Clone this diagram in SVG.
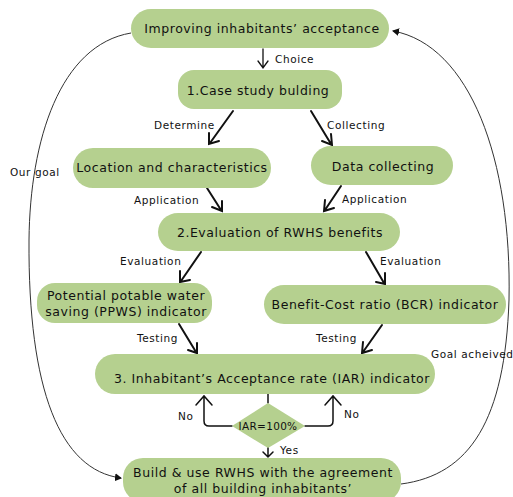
<svg xmlns="http://www.w3.org/2000/svg" width="513" height="497" viewBox="0 0 513 497">
<style>
.n{fill:#b5d08f}
.t{font-family:"DejaVu Sans",Verdana,sans-serif;font-size:12.5px;fill:#111;text-anchor:middle;letter-spacing:0.55px}
.l{font-family:"DejaVu Sans",Verdana,sans-serif;font-size:10.5px;fill:#111;letter-spacing:0.6px}
.a{fill:none;stroke:#111;stroke-width:2;stroke-linecap:round;stroke-linejoin:miter}
.c{fill:none;stroke:#333;stroke-width:1}
</style>
<defs>
<marker id="tri" markerWidth="8" markerHeight="8" refX="6" refY="4" orient="auto" markerUnits="userSpaceOnUse">
<path d="M0,0 L7,4 L0,8 Z" fill="#111"/>
</marker>
</defs>
<rect width="513" height="497" fill="#fff"/>
<g id="connectors">
<path class="c" d="M131,33 C60,45 30,140 29,240 C28,390 60,470 121,478" marker-end="url(#tri)"/>
<path class="c" d="M401,484 C470,475 505,420 509,300 C512,160 470,45 393,31" marker-end="url(#tri)"/>
<path class="a" d="M263,49 V68 M258,61 L263,68 L268,61" style="stroke-width:1.3"/>
<path class="a" d="M233,111 L210,143 M209,133 L209,144 L219,141"/>
<path class="a" d="M311,111 L331,144 M322,141 L332,145 L331,134"/>
<path class="a" d="M207,188 L221,210 M212,207 L222,211 L222,201"/>
<path class="a" d="M341,186 L325,210 M325,200 L324,211 L334,208"/>
<path class="a" d="M201,252 L181,281 M180,271 L180,282 L190,280"/>
<path class="a" d="M366,252 L384,283 M376,282 L385,284 L385,273"/>
<path class="a" d="M179,324 L196,352 M188,350 L197,353 L197,343"/>
<path class="a" d="M382,325 L363,352 M363,342 L362,353 L372,350"/>
<path class="a" style="stroke-width:1.5" d="M268,394 V403"/>
<path class="a" style="stroke-width:1.5" d="M232,426 H209 Q204,426 204,421 V397 M196,405 L204,396 L212,405"/>
<path class="a" style="stroke-width:1.5" d="M305,426 H328 Q333,426 333,421 V397 M325,405 L333,396 L341,405"/>
<path class="a" style="stroke-width:1.5" d="M268,447 V457 M263,452 L268,457 L273,452"/>
</g>
<g id="labels">
<text class="l" x="275" y="63">Choice</text>
<text class="l" x="154" y="129">Determine</text>
<text class="l" x="327" y="129">Collecting</text>
<text class="l" x="10" y="176">Our goal</text>
<text class="l" x="134" y="204">Application</text>
<text class="l" x="342" y="203">Application</text>
<text class="l" x="120" y="265">Evaluation</text>
<text class="l" x="380" y="265">Evaluation</text>
<text class="l" x="137" y="342">Testing</text>
<text class="l" x="316" y="342">Testing</text>
<text class="l" x="431" y="358">Goal acheived</text>
<text class="l" x="178" y="420">No</text>
<text class="l" x="344" y="418">No</text>
<text class="l" x="280" y="454">Yes</text>
</g>
<g id="n1"><rect class="n" x="131" y="9" width="258" height="39" rx="20"/><text class="t" x="262" y="33">Improving inhabitants’ acceptance</text></g>
<g id="n2"><rect class="n" x="178" y="70" width="164" height="39" rx="16"/><text class="t" x="258" y="95">1.Case study bulding</text></g>
<g id="n3"><rect class="n" x="73" y="148" width="198" height="40" rx="20"/><text class="t" x="172" y="172">Location and characteristics</text></g>
<g id="n4"><rect class="n" x="311" y="146" width="142" height="39" rx="20"/><text class="t" x="383" y="171">Data collecting</text></g>
<g id="n5"><rect class="n" x="158" y="213" width="242" height="38" rx="20"/><text class="t" x="280" y="237">2.Evaluation of RWHS benefits</text></g>
<g id="n6"><rect class="n" x="37" y="283" width="175" height="40" rx="18"/><text class="t" x="126" y="300">Potential potable water</text><text class="t" x="126" y="316">saving (PPWS) indicator</text></g>
<g id="n7"><rect class="n" x="264" y="285" width="242" height="39" rx="20"/><text class="t" x="385" y="309">Benefit-Cost ratio (BCR) indicator</text></g>
<g id="n8"><rect class="n" x="95" y="354" width="340" height="40" rx="20"/><text class="t" x="272" y="383">3. Inhabitant’s Acceptance rate (IAR) indicator</text></g>
<g id="d1"><polygon class="n" points="268,403 305,426 268,448 232,426"/><text class="l" x="268" y="430" text-anchor="middle" style="letter-spacing:0.3px">IAR=100%</text></g>
<g id="n9"><rect class="n" x="123" y="458" width="278" height="44" rx="20"/><text class="t" x="263" y="477">Build &amp; use RWHS with the agreement</text><text class="t" x="263" y="493">of all building inhabitants’</text></g>
</svg>
